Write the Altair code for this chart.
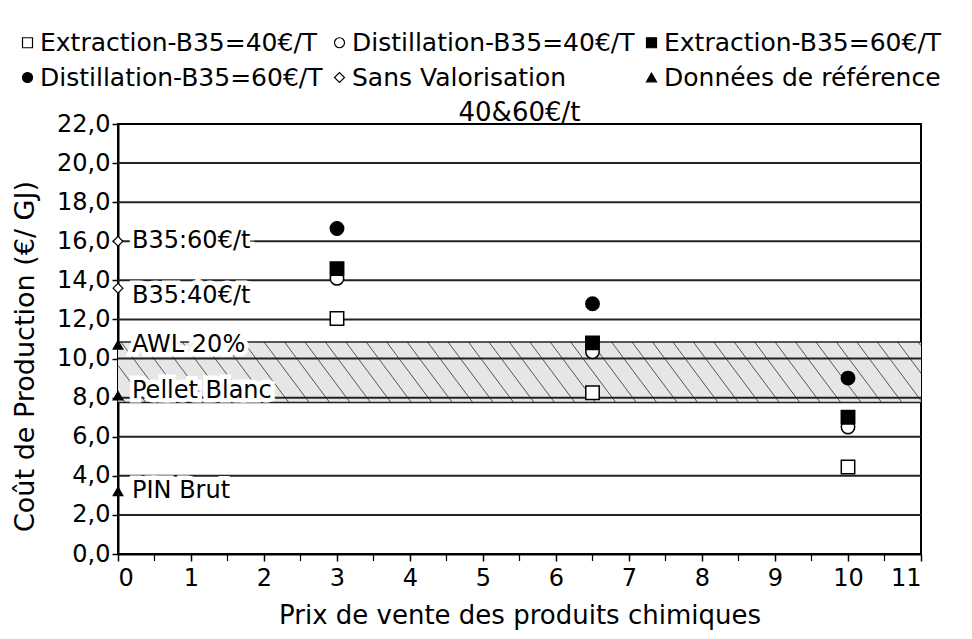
import altair as alt
import pandas as pd

# ---------------- data ----------------
x_prices = [3, 6.5, 10]
extraction_40 = [12.05, 8.25, 4.45]
distillation_40 = [14.1, 10.35, 6.5]
extraction_60 = [14.6, 10.8, 7.0]
distillation_60 = [16.65, 12.8, 9.0]

ref_series = ["Sans Valorisation", "Sans Valorisation",
              "Données de référence", "Données de référence", "Données de référence"]
ref_labels = ["B35:60€/t", "B35:40€/t", "AWL 20%", "Pellet Blanc", "PIN Brut"]
ref_values = [16.0, 13.6, 10.7, 8.1, 3.2]
ref_x = [0, 0, 0, 0, 0]

band_low = [7.75]
band_high = [10.85]

grid_values = [2, 4, 6, 8, 10, 12, 14, 16, 18, 20]
x_ticks = [0, 1, 2, 3, 4, 5, 6, 7, 8, 9, 10, 11]
x_minor_ticks = [0.5, 1.5, 2.5, 3.5, 4.5, 5.5, 6.5, 7.5, 8.5, 9.5, 10.5]
y_ticks = [0, 2, 4, 6, 8, 10, 12, 14, 16, 18, 20, 22]

series_names = ["Extraction-B35=40€/T", "Distillation-B35=40€/T", "Extraction-B35=60€/T",
                "Distillation-B35=60€/T", "Sans Valorisation", "Données de référence"]
series_shapes = ["square", "circle", "square", "circle", "diamond", "triangle-up"]
series_fills = ["white", "white", "black", "black", "white", "black"]
series_strokes = ["black", "black", "black", "black", "black", "black"]

FONT = "DejaVu Sans"

# ---------------- tables ----------------
rows = []
for name, vals in zip(series_names[:4], [extraction_40, distillation_40, extraction_60, distillation_60]):
    for xv, yv in zip(x_prices, vals):
        rows.append({"series": name, "x": xv, "y": yv})
points = pd.DataFrame(rows)
refs = pd.DataFrame({"series": ref_series, "x": ref_x, "y": ref_values})

labels = pd.DataFrame({"x": ref_x, "y": ref_values, "label": ref_labels})
band = pd.DataFrame({"lo": band_low, "hi": band_high})
band_lines = pd.DataFrame({"y": band_low + band_high})
grid = pd.DataFrame({"y": grid_values})
minor = pd.DataFrame({"x": x_minor_ticks})

xs = alt.Scale(domain=[0, 11], nice=False, zero=False)
ys = alt.Scale(domain=[0, 22], nice=False, zero=False)

x_axis = alt.Axis(values=x_ticks, format="d", labelFontSize=24, titleFontSize=26,
                  labelFont=FONT, titleFont=FONT, titleFontWeight="normal",
                  tickSize=7, tickColor="black", tickWidth=1.5, domainColor="black",
                  domainWidth=2, labelColor="black", titleColor="black",
                  labelPadding=5, titlePadding=12, grid=False)
y_axis = alt.Axis(values=y_ticks,
                  labelExpr="replace(format(datum.value, '.1f'), '.', ',')",
                  labelFontSize=24, titleFontSize=27, labelFont=FONT, titleFont=FONT,
                  titleFontWeight="normal", tickSize=6, tickColor="black", tickWidth=1.5,
                  domainColor="black", domainWidth=2, labelColor="black",
                  titleColor="black", labelPadding=2, titleX=-79, titleY=232,
                  grid=False)
X_TITLE = "Prix de vente des produits chimiques"
Y_TITLE = "Coût de Production (€/ GJ)"


def X(field):
    return alt.X(field, scale=xs, axis=x_axis, title=X_TITLE)


def Y(field):
    return alt.Y(field, scale=ys, axis=y_axis, title=Y_TITLE)


legend = alt.Legend(
    title=None, orient="none", legendX=-103, legendY=-94, columns=3, direction="horizontal",
    labelFont=FONT, labelFontSize=25, labelLimit=0, labelColor="black",
    symbolSize=100, symbolStrokeWidth=1.2,
    labelOffset=0, columnPadding=4, rowPadding=9, padding=0,
)
fill_enc = alt.Fill("series:N", scale=alt.Scale(domain=series_names, range=series_fills), legend=legend)
shape_enc = alt.Shape("series:N", scale=alt.Scale(domain=series_names, range=series_shapes), legend=legend)
stroke_enc = alt.Stroke("series:N", scale=alt.Scale(domain=series_names, range=series_strokes), legend=legend)

band_rect = alt.Chart(band).mark_rect(fill="#e6e6e6").encode(y=Y("lo:Q"), y2="hi:Q")

hatch = alt.Chart(alt.sequence(-0.8, 11.0, 0.28, as_="h")).transform_calculate(
    h2="datum.h + 0.62", yhi=str(band_high[0]), ylo=str(band_low[0])
).mark_rule(stroke="#555555", strokeWidth=1, clip=True).encode(
    x=X("h:Q"), x2="h2:Q", y=Y("yhi:Q"), y2="ylo:Q")

grid_rules = alt.Chart(grid).mark_rule(stroke="#222222", strokeWidth=2).encode(y=Y("y:Q"))

band_rules = alt.Chart(band_lines).mark_rule(stroke="#222222", strokeWidth=1.5).encode(y=Y("y:Q"))

minor_ticks = alt.Chart(minor).mark_tick(
    orient="vertical", size=6, thickness=1.2, color="black", yOffset=4, opacity=1
).encode(x=X("x:Q"), y=alt.datum(0, scale=ys, axis=y_axis, title=Y_TITLE))


def label_layers(subset, dy):
    base = alt.Chart(labels).transform_filter(
        alt.FieldOneOfPredicate(field="label", oneOf=subset)
    ).encode(x=X("x:Q"), y=Y("y:Q"), text="label:N")
    halo = base.mark_text(align="left", baseline="middle", dx=14, dy=dy, font=FONT, fontSize=24,
                          stroke="white", strokeWidth=9, fill="white")
    txt = base.mark_text(align="left", baseline="middle", dx=14, dy=dy, font=FONT, fontSize=24,
                         fill="black")
    return [halo, txt]


lab_layers = (label_layers(["B35:60€/t", "AWL 20%", "PIN Brut"], 0)
              + label_layers(["B35:40€/t"], 8)
              + label_layers(["Pellet Blanc"], -5))

pts = alt.Chart(points).mark_point(strokeWidth=1.5, opacity=1, size=180).encode(
    x=X("x:Q"), y=Y("y:Q"), fill=fill_enc, shape=shape_enc, stroke=stroke_enc)

ref_pts = alt.Chart(refs).mark_point(strokeWidth=1.2, opacity=1, size=95).encode(
    x=X("x:Q"), y=Y("y:Q"), fill=fill_enc, shape=shape_enc, stroke=stroke_enc)

chart = alt.layer(
    band_rect, hatch, grid_rules, band_rules, minor_ticks, *lab_layers, pts, ref_pts
).properties(
    width=803, height=430,
    title=alt.TitleParams("40&60€/t", font=FONT, fontSize=26, fontWeight="normal",
                          color="black", offset=2, dy=98),
    autosize=alt.AutoSizeParams(type="none"),
    padding={"left": 110, "top": 116, "right": 43, "bottom": 77},
    background="white",
).configure_view(stroke="black", strokeWidth=2)

chart.save("out.html", embed_options={"renderer": "svg", "actions": False})
